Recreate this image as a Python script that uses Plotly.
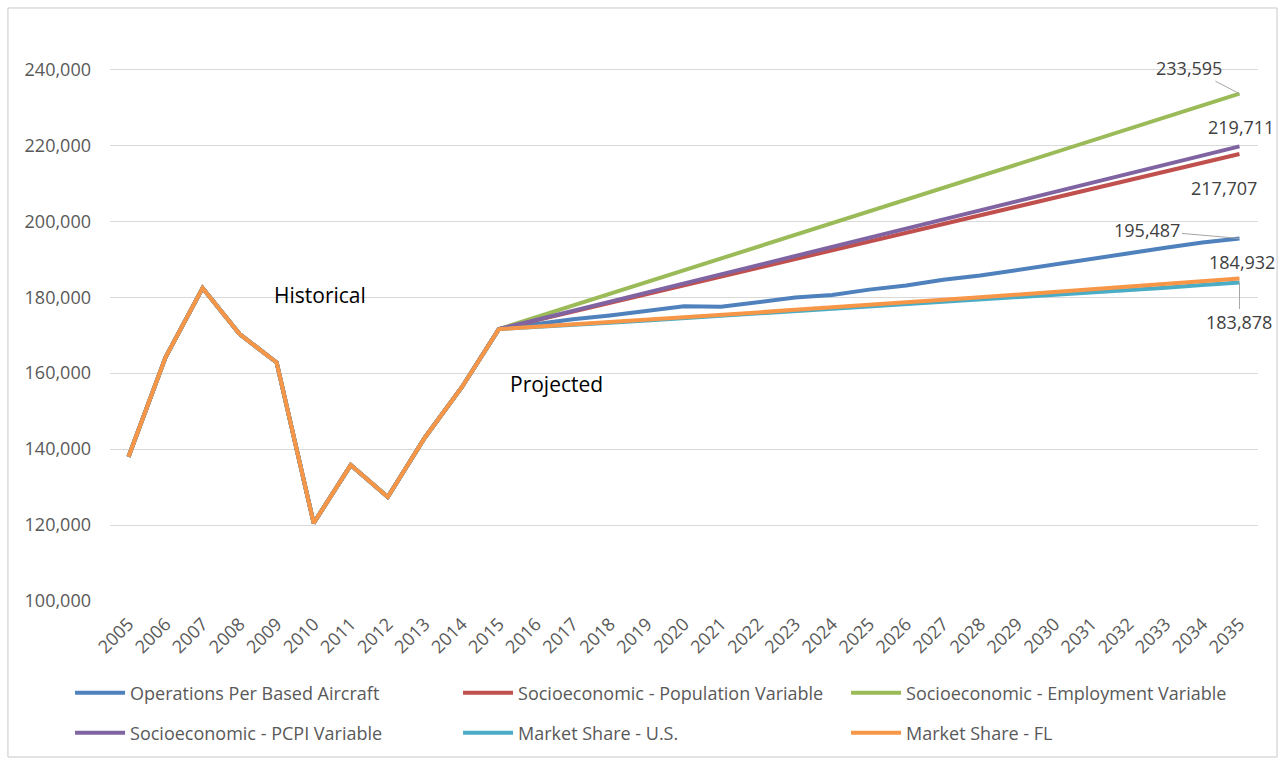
import plotly.graph_objects as go

years = [str(y) for y in range(2005, 2036)]

historical = [138000, 164200, 182400, 170300, 162800, 120500, 135800, 127400, 143000, 156300, 171600]

# Projections 2015-2035
ops_per_based_aircraft = [171600, 173000, 174200, 175200, 176400, 177600, 177500, 178700, 179900, 180600, 182000,
                          183100, 184600, 185700, 187200, 188500, 190000, 191500, 193000, 194400, 195487]
socio_population = [171600, 173900, 176200, 178500, 180800, 183100, 185400, 187700, 190000, 192300, 194600,
                    196900, 199200, 201500, 203800, 206100, 208400, 210800, 213100, 215400, 217707]
socio_employment = [171600, 174700, 177800, 180900, 184000, 187100, 190200, 193300, 196400, 199500, 202600,
                    205700, 208800, 211900, 215000, 218100, 221200, 224300, 227400, 230500, 233595]
socio_pcpi = [171600, 174000, 176400, 178800, 181200, 183600, 186000, 188400, 190800, 193200, 195600,
              198000, 200400, 202800, 205200, 207600, 210000, 212500, 214900, 217300, 219711]
market_share_us = [171600, 172100, 172700, 173300, 173900, 174500, 175100, 175700, 176300, 176900, 177500,
                   178100, 178800, 179400, 180000, 180600, 181300, 181900, 182500, 183200, 183878]
market_share_fl = [171600, 172200, 172800, 173400, 174100, 174700, 175400, 176000, 176700, 177300, 178000,
                   178700, 179300, 180000, 180700, 181300, 182000, 182700, 183500, 184200, 184932]

series = [
    ("Operations Per Based Aircraft", ops_per_based_aircraft, "#4F81BD", "legend"),
    ("Socioeconomic - Population Variable", socio_population, "#C0504D", "legend"),
    ("Socioeconomic - Employment Variable", socio_employment, "#9BBB59", "legend"),
    ("Socioeconomic - PCPI Variable", socio_pcpi, "#8064A2", "legend2"),
    ("Market Share - U.S.", market_share_us, "#4BACC6", "legend2"),
    ("Market Share - FL", market_share_fl, "#F79646", "legend2"),
]

FONT = "Open Sans, Noto Sans, sans-serif"
LAST = len(years) - 1  # category index of 2035

fig = go.Figure()
for name, proj, color, lg in series:
    fig.add_trace(go.Scatter(
        x=years, y=historical[:-1] + proj, mode="lines", name=name,
        line=dict(color=color, width=4), legend=lg,
    ))

label_color = "#404040"
lbl_font = dict(family=FONT, size=18, color=label_color)
arrow = dict(showarrow=True, arrowhead=0, arrowwidth=1, arrowcolor="#a6a6a6")

fig.add_annotation(x=LAST, y=socio_employment[-1], text=f"{socio_employment[-1]:,}",
                   ax=-50, ay=-26, font=lbl_font, **arrow)
fig.add_annotation(x=LAST, y=socio_pcpi[-1], text=f"{socio_pcpi[-1]:,}", showarrow=False,
                   xshift=2, yshift=19, font=lbl_font)
fig.add_annotation(x=LAST, y=socio_population[-1], text=f"{socio_population[-1]:,}", showarrow=False,
                   xshift=-15, yshift=-34, font=lbl_font)
fig.add_annotation(x=LAST, y=ops_per_based_aircraft[-1], text=f"{ops_per_based_aircraft[-1]:,}",
                   ax=-92, ay=-8, font=lbl_font, **arrow)
fig.add_annotation(x=LAST, y=market_share_fl[-1], text=f"{market_share_fl[-1]:,}", showarrow=False,
                   xshift=3, yshift=16, font=lbl_font)
fig.add_annotation(x=LAST, y=market_share_us[-1], text=f"{market_share_us[-1]:,}",
                   ax=0, ay=40, font=lbl_font, **arrow)

fig.add_annotation(xref="paper", yref="paper", x=0.183, y=0.5445, xanchor="center", yanchor="middle",
                   text="Historical", showarrow=False, font=dict(family=FONT, size=21, color="#000000"))
fig.add_annotation(xref="paper", yref="paper", x=0.389, y=0.386, xanchor="center", yanchor="middle",
                   text="Projected", showarrow=False, font=dict(family=FONT, size=21, color="#000000"))

# outer chart border
fig.add_shape(type="rect", xref="paper", yref="paper", x0=-0.0889, x1=1.0166, y0=-0.2776, y1=1.0552,
              line=dict(color="#c8c8c8", width=1), fillcolor="rgba(0,0,0,0)", layer="below")

legend_common = dict(orientation="h", xanchor="left", yanchor="middle",
                     entrywidth=323, entrywidthmode="pixels", itemwidth=50,
                     font=dict(family=FONT, size=18, color="#595959"),
                     traceorder="normal", bgcolor="rgba(0,0,0,0)")

fig.update_layout(
    width=1284, height=763,
    margin=dict(l=110, r=26, t=39, b=162),
    paper_bgcolor="white", plot_bgcolor="white",
    font=dict(family=FONT, color="#595959"),
    showlegend=True,
    legend=dict(x=-0.0348, y=-0.1637, **legend_common),
    legend2=dict(x=-0.0348, y=-0.2349, **legend_common),
    xaxis=dict(type="category", range=[-0.5, 30.5], showgrid=False, tickangle=-45,
               tickfont=dict(family=FONT, size=18, color="#595959"), ticks="", showline=False,
               zeroline=False, ticklabelstandoff=8),
    yaxis=dict(range=[100000, 248000], tickvals=[100000, 120000, 140000, 160000, 180000, 200000, 220000, 240000],
               tickformat=",", showgrid=True, gridcolor="#d9d9d9", gridwidth=1, zeroline=False,
               tickfont=dict(family=FONT, size=18, color="#595959"), ticks="", ticklabelstandoff=18),
)

fig.write_html("out.html")
